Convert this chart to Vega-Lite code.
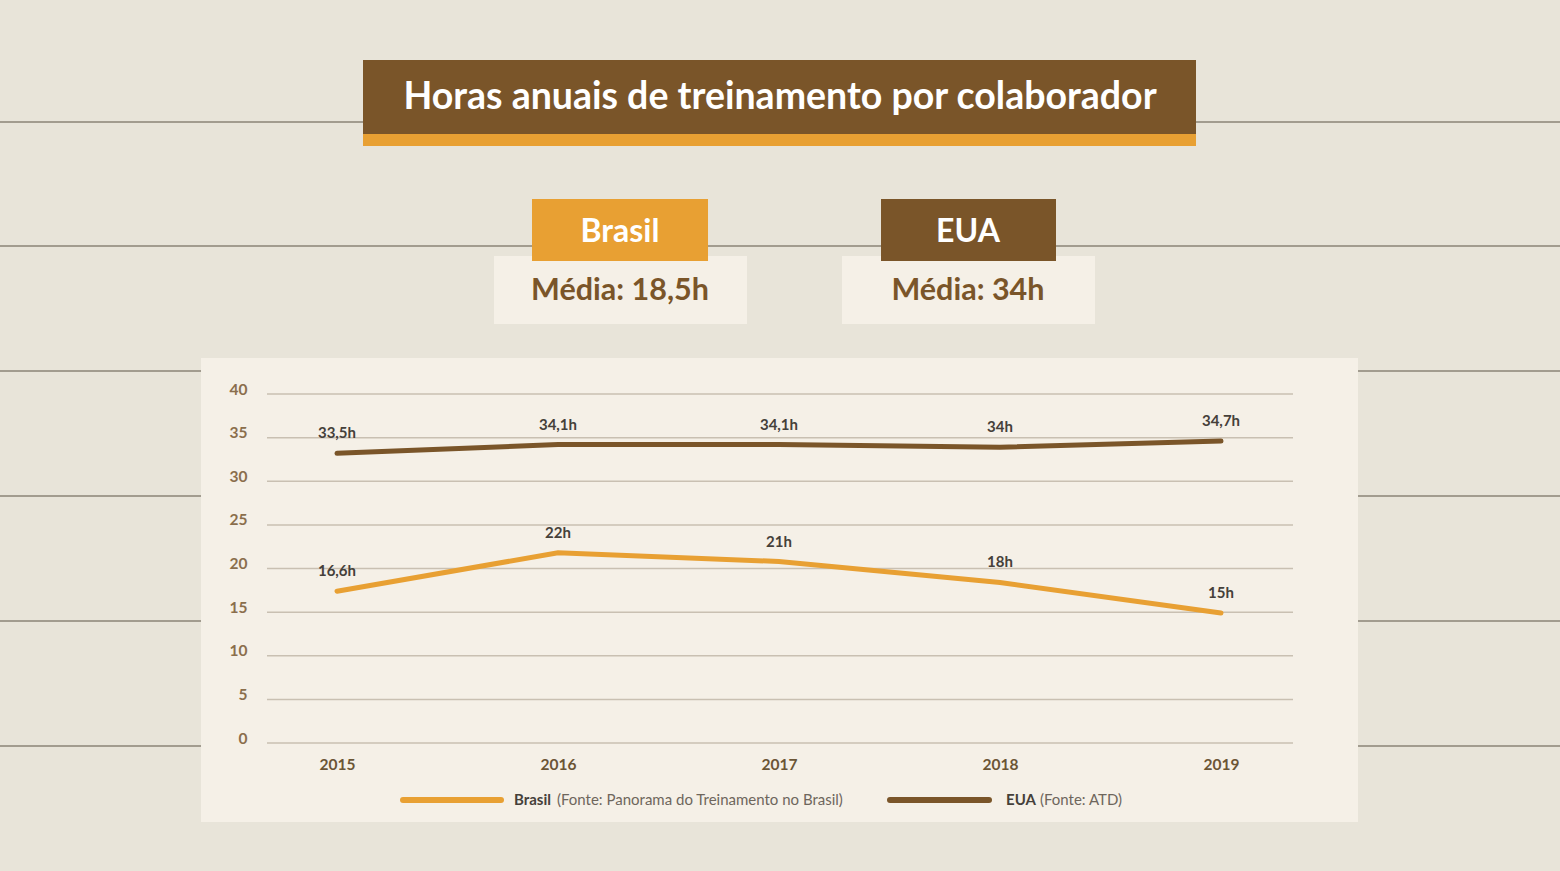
{
  "$schema": "https://vega.github.io/schema/vega-lite/v6.json",
  "width": 1026,
  "height": 349,
  "autosize": {"type": "none"},
  "padding": {"left": 267, "top": 394, "right": 267, "bottom": 128},
  "background": "#e8e4d9",
  "config": {"view": {"stroke": null}, "font": "Lato"},
  "datasets": {
    "horas": [
      {"ano": 2015, "pais": "Brasil", "horas": 17.4, "rotulo": "16,6h"},
      {"ano": 2016, "pais": "Brasil", "horas": 21.8, "rotulo": "22h"},
      {"ano": 2017, "pais": "Brasil", "horas": 20.8, "rotulo": "21h"},
      {"ano": 2018, "pais": "Brasil", "horas": 18.4, "rotulo": "18h"},
      {"ano": 2019, "pais": "Brasil", "horas": 14.9, "rotulo": "15h"},
      {"ano": 2015, "pais": "EUA", "horas": 33.2, "rotulo": "33,5h"},
      {"ano": 2016, "pais": "EUA", "horas": 34.2, "rotulo": "34,1h"},
      {"ano": 2017, "pais": "EUA", "horas": 34.2, "rotulo": "34,1h"},
      {"ano": 2018, "pais": "EUA", "horas": 33.9, "rotulo": "34h"},
      {"ano": 2019, "pais": "EUA", "horas": 34.6, "rotulo": "34,7h"}
    ],
    "grade": [{"h": 0}, {"h": 5}, {"h": 10}, {"h": 15}, {"h": 20}, {"h": 25}, {"h": 30}, {"h": 35}, {"h": 40}],
    "um": [{}]
  },
  "layer": [
    {"data": {"name": "um"}, "mark": {"type": "rule", "color": "#a29c8f", "strokeWidth": 2},
     "encoding": {"x": {"datum": 2013.4752, "type": "quantitative"}, "x2": {"datum": 2020.534}, "y": {"datum": 71.175, "type": "quantitative"}}},
    {"data": {"name": "um"}, "mark": {"type": "rule", "color": "#a29c8f", "strokeWidth": 2},
     "encoding": {"x": {"datum": 2013.4752, "type": "quantitative"}, "x2": {"datum": 2020.534}, "y": {"datum": 56.963, "type": "quantitative"}}},
    {"data": {"name": "um"}, "mark": {"type": "rule", "color": "#a29c8f", "strokeWidth": 2},
     "encoding": {"x": {"datum": 2013.4752, "type": "quantitative"}, "x2": {"datum": 2020.534}, "y": {"datum": 42.636, "type": "quantitative"}}},
    {"data": {"name": "um"}, "mark": {"type": "rule", "color": "#a29c8f", "strokeWidth": 2},
     "encoding": {"x": {"datum": 2013.4752, "type": "quantitative"}, "x2": {"datum": 2020.534}, "y": {"datum": 28.309, "type": "quantitative"}}},
    {"data": {"name": "um"}, "mark": {"type": "rule", "color": "#a29c8f", "strokeWidth": 2},
     "encoding": {"x": {"datum": 2013.4752, "type": "quantitative"}, "x2": {"datum": 2020.534}, "y": {"datum": 13.983, "type": "quantitative"}}},
    {"data": {"name": "um"}, "mark": {"type": "rule", "color": "#a29c8f", "strokeWidth": 2},
     "encoding": {"x": {"datum": 2013.4752, "type": "quantitative"}, "x2": {"datum": 2020.534}, "y": {"datum": -0.344, "type": "quantitative"}}},
    {"data": {"name": "um"}, "mark": {"type": "rect", "color": "#f5f0e7"},
     "encoding": {"x": {"datum": 2014.3847, "type": "quantitative"}, "x2": {"datum": 2019.62}, "y": {"datum": 44.126, "type": "quantitative"}, "y2": {"datum": -9.054}}},
    {"data": {"name": "grade"}, "mark": {"type": "rule", "color": "#c9c0b2", "strokeWidth": 1.5},
     "encoding": {"y": {"field": "h", "type": "quantitative"}}},
    {"data": {"name": "um"}, "mark": {"type": "rect", "color": "#7a5529"},
     "encoding": {"x": {"datum": 2015.1177, "type": "quantitative"}, "x2": {"datum": 2018.8869}, "y": {"datum": 78.281, "type": "quantitative"}, "y2": {"datum": 69.799}}},
    {"data": {"name": "um"}, "mark": {"type": "rect", "color": "#e8a033"},
     "encoding": {"x": {"datum": 2015.1177, "type": "quantitative"}, "x2": {"datum": 2018.8869}, "y": {"datum": 69.799, "type": "quantitative"}, "y2": {"datum": 68.424}}},
    {"data": {"name": "um"}, "mark": {"type": "text", "color": "#ffffff", "font": "Lato", "fontWeight": "bold", "fontSize": 37.5, "align": "center", "baseline": "middle"},
     "encoding": {"x": {"datum": 2017.0046, "type": "quantitative"}, "y": {"datum": 73.926, "type": "quantitative"}, "text": {"value": "Horas anuais de treinamento por colaborador"}}},
    {"data": {"name": "um"}, "mark": {"type": "rect", "color": "#f5f0e7"},
     "encoding": {"x": {"datum": 2015.7104, "type": "quantitative"}, "x2": {"datum": 2016.8552}, "y": {"datum": 55.817, "type": "quantitative"}, "y2": {"datum": 48.023}}},
    {"data": {"name": "um"}, "mark": {"type": "rect", "color": "#f5f0e7"},
     "encoding": {"x": {"datum": 2017.2851, "type": "quantitative"}, "x2": {"datum": 2018.4299}, "y": {"datum": 55.817, "type": "quantitative"}, "y2": {"datum": 48.023}}},
    {"data": {"name": "um"}, "mark": {"type": "rect", "color": "#e8a033"},
     "encoding": {"x": {"datum": 2015.8824, "type": "quantitative"}, "x2": {"datum": 2016.6788}, "y": {"datum": 62.35, "type": "quantitative"}, "y2": {"datum": 55.244}}},
    {"data": {"name": "um"}, "mark": {"type": "rect", "color": "#7a5529"},
     "encoding": {"x": {"datum": 2017.4616, "type": "quantitative"}, "x2": {"datum": 2018.2534}, "y": {"datum": 62.35, "type": "quantitative"}, "y2": {"datum": 55.244}}},
    {"data": {"name": "um"}, "mark": {"type": "text", "color": "#ffffff", "fontWeight": "bold", "fontSize": 32, "align": "center", "baseline": "middle"},
     "encoding": {"x": {"datum": 2016.2806, "type": "quantitative"}, "y": {"datum": 58.6, "type": "quantitative"}, "text": {"value": "Brasil"}}},
    {"data": {"name": "um"}, "mark": {"type": "text", "color": "#ffffff", "fontWeight": "bold", "fontSize": 32, "align": "center", "baseline": "middle"},
     "encoding": {"x": {"datum": 2017.8552, "type": "quantitative"}, "y": {"datum": 58.6, "type": "quantitative"}, "text": {"value": "EUA"}}},
    {"data": {"name": "um"}, "mark": {"type": "text", "color": "#7a5529", "fontWeight": "bold", "fontSize": 30.5, "align": "center", "baseline": "middle"},
     "encoding": {"x": {"datum": 2016.2806, "type": "quantitative"}, "y": {"datum": 51.85, "type": "quantitative"}, "text": {"value": "Média: 18,5h"}}},
    {"data": {"name": "um"}, "mark": {"type": "text", "color": "#7a5529", "fontWeight": "bold", "fontSize": 30.5, "align": "center", "baseline": "middle"},
     "encoding": {"x": {"datum": 2017.8552, "type": "quantitative"}, "y": {"datum": 51.85, "type": "quantitative"}, "text": {"value": "Média: 34h"}}},
    {"data": {"name": "horas"}, "mark": {"type": "line", "strokeWidth": 5, "strokeCap": "round"},
     "encoding": {
       "x": {"field": "ano", "type": "quantitative", "scale": {"domain": [2014.6833, 2019.3258], "nice": false, "zero": false},
             "axis": {"values": [2015, 2016, 2017, 2018, 2019], "format": "d", "title": null, "grid": false, "domain": false, "ticks": false, "labelPadding": 14, "labelFontSize": 15.5, "labelFontWeight": "bold", "labelColor": "#6b5535", "labelFlush": false, "zindex": 1}},
       "y": {"field": "horas", "type": "quantitative", "scale": {"domain": [0, 40], "nice": false, "zero": false},
             "axis": {"values": [0, 5, 10, 15, 20, 25, 30, 35, 40], "title": null, "grid": false, "domain": false, "ticks": false, "labelPadding": 20, "labelOffset": -5, "labelFontSize": 15.5, "labelFontWeight": "bold", "labelColor": "#8a6e4c", "zindex": 1}},
       "color": {"field": "pais", "type": "nominal", "scale": {"domain": ["Brasil", "EUA"], "range": ["#e8a033", "#7a5529"]}, "legend": null}
     }},
    {"data": {"name": "horas"}, "mark": {"type": "text", "color": "#45403a", "fontWeight": "bold", "fontSize": 15, "align": "center", "baseline": "middle", "dy": -20},
     "encoding": {
       "x": {"field": "ano", "type": "quantitative"},
       "y": {"field": "horas", "type": "quantitative"},
       "text": {"field": "rotulo"}
     }},
    {"data": {"name": "um"}, "mark": {"type": "rule", "color": "#e8a033", "strokeWidth": 6, "strokeCap": "round"},
     "encoding": {"x": {"datum": 2015.2987, "type": "quantitative"}, "x2": {"datum": 2015.7421}, "y": {"datum": -6.533, "type": "quantitative"}}},
    {"data": {"name": "um"}, "mark": {"type": "rule", "color": "#7a5529", "strokeWidth": 6, "strokeCap": "round"},
     "encoding": {"x": {"datum": 2017.5023, "type": "quantitative"}, "x2": {"datum": 2017.9503}, "y": {"datum": -6.533, "type": "quantitative"}}},
    {"data": {"name": "um"}, "mark": {"type": "text", "color": "#45403a", "fontWeight": "bold", "fontSize": 15, "align": "left", "baseline": "middle"},
     "encoding": {"x": {"datum": 2015.8009, "type": "quantitative"}, "y": {"datum": -6.533, "type": "quantitative"}, "text": {"value": "Brasil"}}},
    {"data": {"name": "um"}, "mark": {"type": "text", "color": "#6e665c", "fontSize": 15, "align": "left", "baseline": "middle"},
     "encoding": {"x": {"datum": 2015.9955, "type": "quantitative"}, "y": {"datum": -6.533, "type": "quantitative"}, "text": {"value": "(Fonte: Panorama do Treinamento no Brasil)"}}},
    {"data": {"name": "um"}, "mark": {"type": "text", "color": "#45403a", "fontWeight": "bold", "fontSize": 15, "align": "left", "baseline": "middle"},
     "encoding": {"x": {"datum": 2018.0272, "type": "quantitative"}, "y": {"datum": -6.533, "type": "quantitative"}, "text": {"value": "EUA"}}},
    {"data": {"name": "um"}, "mark": {"type": "text", "color": "#6e665c", "fontSize": 15, "align": "left", "baseline": "middle"},
     "encoding": {"x": {"datum": 2018.181, "type": "quantitative"}, "y": {"datum": -6.533, "type": "quantitative"}, "text": {"value": "(Fonte: ATD)"}}}
  ]
}
